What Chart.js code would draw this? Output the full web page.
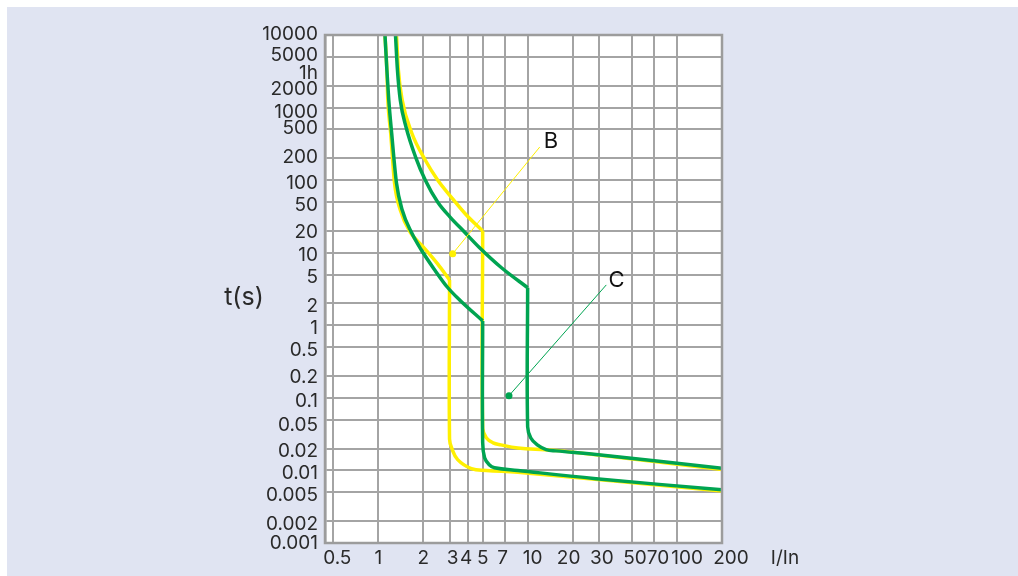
<!DOCTYPE html>
<html>
<head>
<meta charset="utf-8">
<script src="https://cdn.jsdelivr.net/npm/chart.js@4.4.1/dist/chart.umd.min.js"></script>
<style>
html, body { margin: 0; padding: 0; background: #fff; }
#bg { position: absolute; left: 7px; top: 7px; width: 1011px; height: 569px; background: #e0e4f2; }
#wrap { position: absolute; left: 0; top: 0; width: 1018px; height: 576px; }
</style>
</head>
<body>
<div id="bg"></div>
<div id="wrap"><canvas id="chart" width="1018" height="576"></canvas></div>
<script>
// axis ticks
var xTicks = [0.5, 1, 2, 3, 4, 5, 7, 10, 20, 30, 50, 70, 100, 200];
var yTicks = [10000, 5000, 2000, 1000, 500, 200, 100, 50, 20, 10, 5, 2, 1,
              0.5, 0.2, 0.1, 0.05, 0.02, 0.01, 0.005, 0.002, 0.001];
var yLabelValues = [10000, 5000, 3600, 2000, 1000, 500, 200, 100, 50, 20, 10, 5, 2, 1,
                    0.5, 0.2, 0.1, 0.05, 0.02, 0.01, 0.005, 0.002, 0.001];
var yLabelText = ['10000', '5000', '1h', '2000', '1000', '500', '200', '100', '50', '20', '10', '5', '2', '1',
                  '0.5', '0.2', '0.1', '0.05', '0.02', '0.01', '0.005', '0.002', '0.001'];

// curves: I/In and t(s)
var cUpperI = [1.304, 1.344, 1.404, 1.534, 1.778, 2.062, 2.497, 3.026, 3.775, 4.711, 6.714, 10,
               10, 10.5, 11.6, 13.3, 15.5, 28.7, 200];
var cUpperT = [10000, 3294, 1272, 540, 208, 100.5, 50, 31, 19.3, 12, 6.16, 3.3,
               0.04, 0.028, 0.0225, 0.0194, 0.0186, 0.0166, 0.0107];

var cLowerI = [1.109, 1.142, 1.176, 1.229, 1.324, 1.446, 1.676, 1.943, 2.389, 2.894, 3.506, 5,
               5, 5.15, 5.53, 6.0, 8.6, 28.7, 200];
var cLowerT = [10000, 3294, 1272, 446, 91.3, 38.8, 18.7, 10.9, 5.78, 3.37, 2.23, 1.15,
               0.024, 0.015, 0.012, 0.0109, 0.01, 0.0077, 0.0054];

var bUpperI = [1.324, 1.363, 1.446, 1.676, 2.062, 2.497, 3.116, 3.888, 5,
               5, 5.3, 5.87, 6.6, 8.6, 13, 16.8, 200];
var bUpperT = [10000, 3294, 1272, 446, 189.5, 100.5, 56.7, 33.1, 20,
               0.038, 0.028, 0.024, 0.0225, 0.0204, 0.0192, 0.0186, 0.0103];

var bLowerI = [1.109, 1.142, 1.159, 1.211, 1.285, 1.404, 1.651, 2.0, 2.497, 3,
               3, 3.1, 3.4, 4.2, 5.3, 8.6, 200];
var bLowerT = [10000, 3294, 1272, 446, 91.3, 38.8, 18.7, 12, 7, 4.21,
               0.027, 0.0204, 0.0141, 0.0106, 0.01, 0.0094, 0.0052];

// callouts
var noteNames = ['B', 'C'];
var noteTextI = [14.3, 39.3];
var noteTextT = [337, 4.2];
var noteFromI = [12.05, 33.6];
var noteFromT = [286, 3.6];
var noteDotI = [3.15, 7.5];
var noteDotT = [9.7, 0.107];

var yellow = '#fff000';
var green = '#00a451';
var gridColor = '#a4a4a4';
var textColor = '#2a2a2a';
var font = '"Inter", "Liberation Sans", sans-serif';

// split a curve at the start of the vertical (magnetic) drop
function curve(I, T, color, order) {
    var pts = I.map(function(v, i) { return {x: v, y: T[i]}; });
    var k = 0;
    while (k < I.length - 1 && I[k + 1] !== I[k]) k++;
    var base = {borderColor: color, borderWidth: 3.5, pointRadius: 0, fill: false, order: order};
    return [
        Object.assign({data: pts.slice(0, k + 1), cubicInterpolationMode: 'monotone'}, base),
        Object.assign({data: pts.slice(k), tension: 0.4}, base)
    ];
}

var datasets = [].concat(
    curve(cUpperI, cUpperT, green, 1),
    curve(cLowerI, cLowerT, green, 1),
    curve(bUpperI, bUpperT, yellow, 2),
    curve(bLowerI, bLowerT, yellow, 2)
);

var yNudge = {10000: -1, 5000: -2, 3600: 6, 2000: 4, 1000: 5, 500: -1, 200: -1, 20: 1, 0.2: 1, 0.05: 6, 0.001: 0};
var xNudge = {0.5: 4, 3: 3, 4: -2, 7: -2, 10: 5, 20: -4, 30: 3, 50: 3, 70: 4, 100: 10, 200: 9};

var decor = {
    id: 'decor',
    beforeDraw: function(chart) {
        var a = chart.chartArea, c = chart.ctx;
        c.save();
        c.fillStyle = '#fff';
        c.fillRect(a.left, a.top, a.right - a.left, a.bottom - a.top);
        c.restore();
    },
    afterDraw: function(chart) {
        var a = chart.chartArea, c = chart.ctx;
        var xs = chart.scales.x, ys = chart.scales.y;
        c.save();
        c.strokeStyle = '#9c9c9c';
        c.lineWidth = 2.5;
        c.strokeRect(a.left, a.top, a.right - a.left, a.bottom - a.top);

        c.fillStyle = textColor;
        c.font = '19px ' + font;
        c.textBaseline = 'middle';
        c.textAlign = 'right';
        yLabelValues.forEach(function(v, i) {
            var n = yNudge[v] !== undefined ? yNudge[v] : 3;
            c.fillText(yLabelText[i], a.left - 7, ys.getPixelForValue(v) + n);
        });
        c.textAlign = 'center';
        xTicks.forEach(function(v) {
            var n = xNudge[v] || 0;
            c.fillText(String(v), xs.getPixelForValue(v) + n, a.bottom + 15);
        });
        c.fillText('I/In', 785, a.bottom + 15);
        c.font = '25px ' + font;
        c.fillText('t(s)', 244, 297);

        // callouts
        noteNames.forEach(function(name, i) {
            var col = i === 0 ? yellow : green;
            var fx = xs.getPixelForValue(noteFromI[i]), fy = ys.getPixelForValue(noteFromT[i]);
            var dx = xs.getPixelForValue(noteDotI[i]), dy = ys.getPixelForValue(noteDotT[i]);
            c.strokeStyle = col;
            c.lineWidth = 1;
            c.beginPath();
            c.moveTo(fx, fy);
            c.lineTo(dx, dy);
            c.stroke();
            c.fillStyle = col;
            c.beginPath();
            c.arc(dx, dy, 3.5, 0, Math.PI * 2);
            c.fill();
            c.fillStyle = '#111';
            c.font = '22px ' + font;
            c.fillText(name, xs.getPixelForValue(noteTextI[i]), ys.getPixelForValue(noteTextT[i]));
        });
        c.restore();
    }
};

new Chart(document.getElementById('chart'), {
    type: 'line',
    data: {datasets: datasets},
    options: {
        responsive: false,
        animation: false,
        events: [],
        layout: {padding: {left: 0, top: 35, right: 296, bottom: 0}},
        plugins: {legend: {display: false}, tooltip: {enabled: false}},
        scales: {
            x: {
                type: 'logarithmic',
                min: 0.44,
                max: 200,
                afterBuildTicks: function(s) { s.ticks = xTicks.map(function(v) { return {value: v}; }); },
                afterFit: function(s) { s.height = 33; },
                grid: {color: gridColor, lineWidth: 2, drawTicks: false},
                border: {display: true, color: '#9c9c9c', width: 2},
                ticks: {display: false}
            },
            y: {
                type: 'logarithmic',
                min: 0.001,
                max: 10000,
                afterBuildTicks: function(s) { s.ticks = yTicks.map(function(v) { return {value: v}; }); },
                afterFit: function(s) { s.width = 325; },
                grid: {color: gridColor, lineWidth: 2, drawTicks: false},
                border: {display: true, color: '#9c9c9c', width: 2.5},
                ticks: {display: false}
            }
        }
    },
    plugins: [decor]
});
</script>
</body>
</html>
